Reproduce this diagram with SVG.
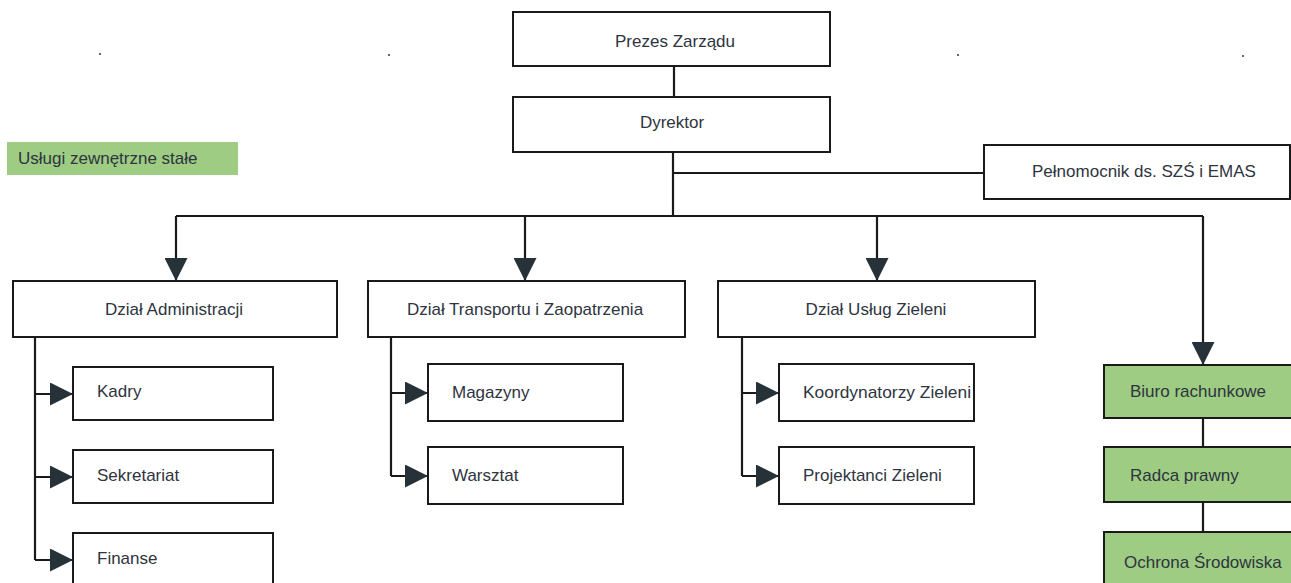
<svg xmlns="http://www.w3.org/2000/svg" width="1291" height="583" viewBox="0 0 1291 583">
<style>
.box{fill:#ffffff;stroke:#1a1a1a;stroke-width:2}
.ext{fill:#9dcc82;stroke:#1a1a1a;stroke-width:2}
.t{font-family:"Liberation Sans",Arial,sans-serif;font-size:17px;fill:#2e3440}
.c{text-anchor:middle}
.ln{fill:none;stroke:#1a1a1a;stroke-width:2.2}
.dot{fill:#333}
</style>
<defs>
<marker id="arr" viewBox="0 0 10 10" refX="10" refY="5" markerWidth="25" markerHeight="23" markerUnits="userSpaceOnUse" orient="auto">
<path d="M0,0 L10,5 L0,10 Z" fill="#263238"/>
</marker>
</defs>
<rect width="1291" height="583" fill="#ffffff"/>
<g id="dots">
<circle class="dot" cx="100" cy="54" r="1"/>
<circle class="dot" cx="389" cy="55" r="1"/>
<circle class="dot" cx="674" cy="56" r="1"/>
<circle class="dot" cx="958" cy="55" r="1"/>
<circle class="dot" cx="1243" cy="56" r="1"/>
</g>
<g id="connectors">
<path class="ln" d="M674,66 V97"/>
<path class="ln" d="M673,152 V216"/>
<path class="ln" d="M673,173 H984"/>
<path class="ln" d="M176,216 H1203"/>
<path class="ln" d="M176,216 V281" marker-end="url(#arr)"/>
<path class="ln" d="M525,216 V281" marker-end="url(#arr)"/>
<path class="ln" d="M877,216 V281" marker-end="url(#arr)"/>
<path class="ln" d="M1203,216 V365" marker-end="url(#arr)"/>
<path class="ln" d="M35,337 V560"/>
<path class="ln" d="M35,394 H73" marker-end="url(#arr)"/>
<path class="ln" d="M35,477 H73" marker-end="url(#arr)"/>
<path class="ln" d="M35,560 H73" marker-end="url(#arr)"/>
<path class="ln" d="M391,337 V476"/>
<path class="ln" d="M391,393 H428" marker-end="url(#arr)"/>
<path class="ln" d="M391,476 H428" marker-end="url(#arr)"/>
<path class="ln" d="M742,337 V476"/>
<path class="ln" d="M742,393 H779" marker-end="url(#arr)"/>
<path class="ln" d="M742,476 H779" marker-end="url(#arr)"/>
<path class="ln" d="M1203,418 V447"/>
<path class="ln" d="M1203,502 V532"/>
</g>
<g id="prezes"><rect class="box" x="513" y="12" width="317" height="54"/><text class="t c" x="675" y="47">Prezes Zarządu</text></g>
<g id="dyrektor"><rect class="box" x="513" y="97" width="317" height="55"/><text class="t c" x="672" y="128">Dyrektor</text></g>
<g id="pelnomocnik"><rect class="box" x="984" y="145" width="306" height="54"/><text class="t c" x="1144" y="177">Pełnomocnik ds. SZŚ i EMAS</text></g>
<g id="uslugi-legend"><rect x="7" y="142" width="231" height="33" fill="#9dcc82"/><text class="t" x="18" y="164">Usługi zewnętrzne stałe</text></g>
<g id="dzial-admin"><rect class="box" x="13" y="281" width="324" height="56"/><text class="t c" x="174" y="315">Dział Administracji</text></g>
<g id="dzial-transport"><rect class="box" x="368" y="281" width="317" height="56"/><text class="t c" x="525" y="315">Dział Transportu i Zaopatrzenia</text></g>
<g id="dzial-zieleni"><rect class="box" x="718" y="281" width="317" height="56"/><text class="t c" x="876" y="315">Dział Usług Zieleni</text></g>
<g id="kadry"><rect class="box" x="73" y="367" width="200" height="53"/><text class="t" x="97" y="397">Kadry</text></g>
<g id="sekretariat"><rect class="box" x="73" y="450" width="200" height="53"/><text class="t" x="97" y="481">Sekretariat</text></g>
<g id="finanse"><rect class="box" x="73" y="533" width="200" height="60"/><text class="t" x="97" y="564">Finanse</text></g>
<g id="magazyny"><rect class="box" x="428" y="364" width="195" height="57"/><text class="t" x="452" y="398">Magazyny</text></g>
<g id="warsztat"><rect class="box" x="428" y="447" width="195" height="57"/><text class="t" x="452" y="481">Warsztat</text></g>
<g id="koordynatorzy"><rect class="box" x="779" y="364" width="195" height="57"/><text class="t" x="803" y="398" textLength="168" lengthAdjust="spacingAndGlyphs">Koordynatorzy Zieleni</text></g>
<g id="projektanci"><rect class="box" x="779" y="447" width="195" height="57"/><text class="t" x="803" y="481">Projektanci Zieleni</text></g>
<g id="biuro"><rect class="ext" x="1104" y="365" width="200" height="53"/><text class="t" x="1130" y="397">Biuro rachunkowe</text></g>
<g id="radca"><rect class="ext" x="1104" y="447" width="200" height="55"/><text class="t" x="1130" y="481">Radca prawny</text></g>
<g id="ochrona"><rect class="ext" x="1104" y="532" width="200" height="60"/><text class="t" x="1124" y="568">Ochrona Środowiska</text></g>
</svg>
